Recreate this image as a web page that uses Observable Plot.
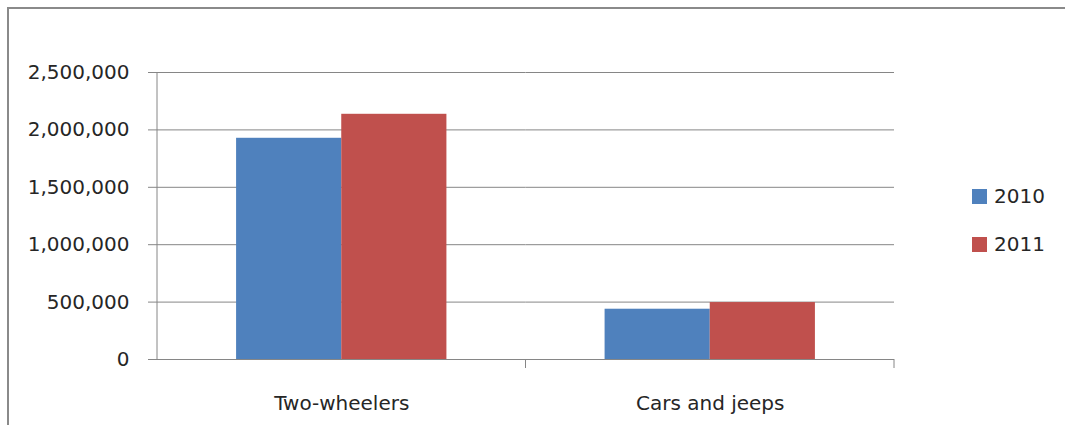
<!DOCTYPE html>
<html><head><meta charset="utf-8">
<script src="https://cdn.jsdelivr.net/npm/d3@7"></script>
<script src="https://cdn.jsdelivr.net/npm/@observablehq/plot@0.6"></script>
<style>
body{margin:0;background:#fff;}
#wrap{position:relative;width:1065px;height:425px;overflow:hidden;font-family:"DejaVu Sans",sans-serif;}
#frame{position:absolute;left:7px;top:7px;right:-4px;bottom:-4px;border-top:2px solid #8a8a8a;border-left:2px solid #8a8a8a;}
#chart{position:absolute;left:0;top:0;}
#legend{position:absolute;left:972px;top:184px;}
.item{display:flex;align-items:center;height:24px;margin-bottom:24px;font-size:20px;color:#262626;}
.sw{width:15px;height:15px;margin-right:7px;}
</style></head>
<body><div id="wrap"><div id="frame"></div><div id="chart"></div><div id="legend"></div></div>
<script>
const categories = ["Two-wheelers", "Cars and jeeps"];
const years = ["2010", "2011"];
const values2010 = [1927000, 438000];
const values2011 = [2136000, 496000];
const yTicks = [0, 500000, 1000000, 1500000, 2000000, 2500000];
const colors = ["#4F81BD", "#C0504D"];

const data = categories.flatMap((c, i) => [
  {category: c, year: years[0], value: values2010[i]},
  {category: c, year: years[1], value: values2011[i]}
]);

const plot = Plot.plot({
  width: 1065, height: 425,
  marginLeft: 157, marginRight: 171, marginTop: 72, marginBottom: 66,
  style: {fontFamily: '"DejaVu Sans", sans-serif', fontSize: "20px", color: "#262626", background: "transparent"},
  fx: {domain: categories, padding: 0, round: false, label: null},
  x: {domain: years, paddingInner: 0, paddingOuter: 0.752, round: false, axis: null},
  y: {domain: [0, 2500000], label: null},
  color: {domain: years, range: colors},
  marks: [
    Plot.gridY(yTicks, {stroke: "#868686", strokeOpacity: 1}),
    Plot.barY(data, {fx: "category", x: "year", y: "value", fill: "year"}),
    Plot.ruleY([0], {stroke: "#868686"}),
    Plot.axisY(yTicks, {tickSize: 9, tickPadding: 19, tickFormat: d3.format(","), stroke: "#868686", fill: "#262626", label: null}),
    Plot.axisFx({anchor: "bottom", tickSize: 0, tickPadding: 36, label: null, fill: "#262626"})
  ]
});
document.getElementById("chart").appendChild(plot);

// axis line and category boundary ticks (Excel style), positioned from Plot's scales
const fx = plot.scale("fx"), y = plot.scale("y");
const y0 = y.apply(0), yTop = y.apply(yTicks[yTicks.length - 1]);
const xs = categories.map(c => fx.apply(c)).concat([fx.apply(categories[categories.length - 1]) + fx.bandwidth]);
const svg = d3.select(plot);
svg.append("line").attr("x1", xs[0]).attr("x2", xs[0]).attr("y1", yTop).attr("y2", y0)
  .attr("stroke", "#868686");
svg.selectAll("line.bt").data(xs.slice(1)).join("line").attr("class", "bt")
  .attr("x1", d => d).attr("x2", d => d).attr("y1", y0).attr("y2", y0 + 9).attr("stroke", "#868686");

// legend
const legend = d3.select("#legend");
years.forEach((yr, i) => {
  const it = legend.append("div").attr("class", "item");
  it.append("div").attr("class", "sw").style("background", colors[i]);
  it.append("span").text(yr);
});
</script>
</body></html>
